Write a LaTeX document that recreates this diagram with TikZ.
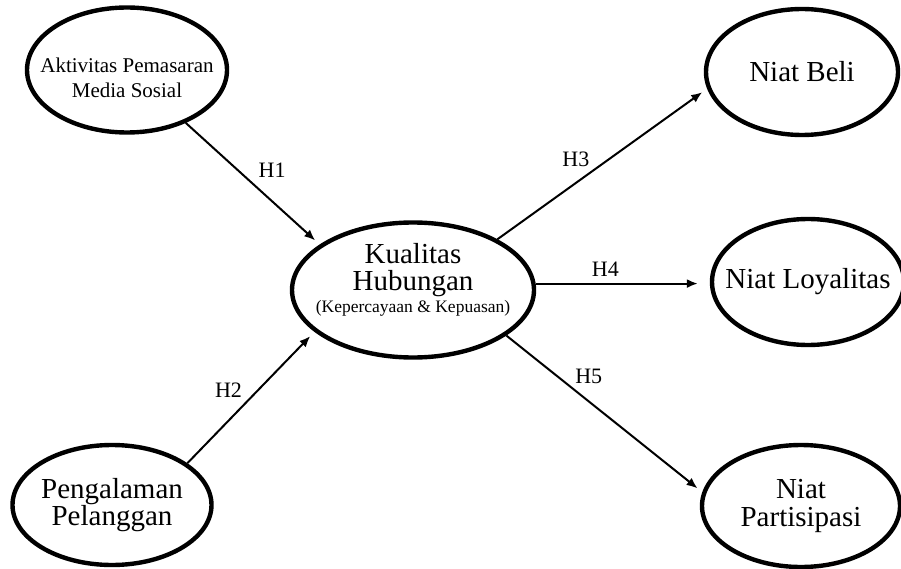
\documentclass[tikz,border=0pt]{standalone}
\usepackage{fontspec}
\setmainfont{Liberation Serif}
\usetikzlibrary{arrows.meta,shapes.geometric}
\tikzset{
         var/.style={draw,ellipse,line width=4.4pt,inner sep=0},
         vtext/.style={align=center,inner sep=0,font=\fontsize{29}{26}\selectfont},
         hyp/.style={line width=2pt,-{Latex[length=11pt,width=9pt]},shorten >=6pt},
         hlab/.style={font=\fontsize{22}{25}\selectfont,inner sep=1pt}
        }
\begin{document}
\begin{tikzpicture}[x=1pt,y=-1pt]
\useasboundingbox (0,0) rectangle (901,569);

%variables (ellipse first, text on top)
\node[var,minimum width=200,minimum height=125] (akt) at (127,70) {}; %X1
\node[vtext,font=\fontsize{21}{25}\selectfont] (akt-t) at ([yshift=-8pt]akt.center) {Aktivitas Pemasaran\\Media Sosial};
\node[var,minimum width=199,minimum height=120] (peng) at (112,505) {}; %X2
\node[vtext] (peng-t) at (peng) {Pengalaman\\Pelanggan};
\node[var,minimum width=242,minimum height=135] (kual) at (413,290) {}; %mediator
\node[vtext,font=\fontsize{29}{27}\selectfont] (kual-t) at ([yshift=10pt]kual.center) {Kualitas\\Hubungan\\[-5pt]{\fontsize{17.5}{20}\selectfont (Kepercayaan \& Kepuasan)}};
\node[var,minimum width=192,minimum height=126] (beli) at (802,72) {}; %Y1
\node[vtext] (beli-t) at (beli) {Niat Beli};
\node[var,minimum width=192,minimum height=126] (loy) at (808,282) {}; %Y2
\node[vtext] (loy-t) at (loy) {Niat Loyalitas};
\node[var,minimum width=198,minimum height=122] (part) at (801,506) {}; %Y3
\node[vtext,font=\fontsize{29}{28}\selectfont] (part-t) at (part) {Niat\\Partisipasi};

%hypotheses
\draw[hyp] (akt.-42) -- (kual.154) node[hlab,midway,anchor=south west,xshift=4pt,yshift=4pt] {H1}; %H1
\draw[hyp] (peng.29) -- (kual.-157) node[hlab,midway,left=7pt,yshift=7pt] {H2}; %H2
\draw[hyp] (kual.31) -- (beli.190) node[hlab,midway,left=11pt,yshift=5pt] {H3}; %H3
\draw[hyp,shorten >=12pt] (kual.3) -- (kual.3 -| loy.west) node[hlab,pos=0.4,above=5pt] {H4}; %H4
\draw[hyp] (kual.-26) -- (part.172) node[hlab,pos=0.26,right=16pt] {H5}; %H5
\end{tikzpicture}
\end{document}
